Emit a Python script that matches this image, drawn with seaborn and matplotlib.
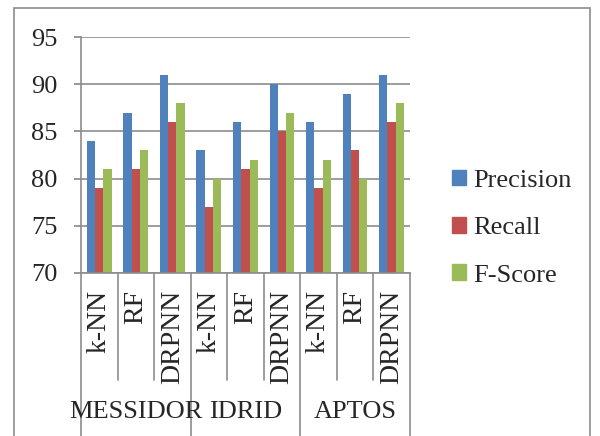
import pandas as pd
import matplotlib
matplotlib.use('Agg')
import matplotlib.pyplot as plt
import matplotlib.transforms as mtransforms
from matplotlib.patches import Rectangle
import seaborn as sns

# data
datasets = ['MESSIDOR', 'IDRID', 'APTOS']
models = ['k-NN', 'RF', 'DRPNN']
precision = [84, 87, 91, 83, 86, 90, 86, 89, 91]
recall = [79, 81, 86, 77, 81, 85, 79, 83, 86]
fscore = [81, 83, 88, 80, 82, 87, 82, 80, 88]
metrics = ['Precision', 'Recall', 'F-Score']
colors = ['#4F81BD', '#C0504D', '#9BBB59']

keys = [f'{d} {m}' for d in datasets for m in models]
df = pd.DataFrame({'key': keys, 'Precision': precision, 'Recall': recall, 'F-Score': fscore})
long_df = df.melt(id_vars='key', var_name='metric', value_name='value')

sns.set_theme(style='white')
plt.rcParams['font.family'] = ['Liberation Serif', 'DejaVu Serif']

fig = plt.figure(figsize=(6, 4.36), dpi=100)
ax = fig.add_axes([0.135, 0.374, 0.548, 0.541])

sns.barplot(data=long_df, x='key', y='value', hue='metric', order=keys,
            hue_order=metrics, palette=colors, width=0.68, ax=ax,
            saturation=1, edgecolor='none')

ax.set_ylim(70, 95)
ax.set_yticks(range(70, 96, 5))
ax.set_xlim(-0.5, len(keys) - 0.5)
ax.yaxis.grid(True, color='#8c8c8c', linewidth=1.2)
ax.set_axisbelow(True)
for s in ['top', 'right']:
    ax.spines[s].set_visible(False)
for s in ['left', 'bottom']:
    ax.spines[s].set_color('#8c8c8c')
    ax.spines[s].set_linewidth(1.2)
ax.tick_params(axis='y', left=True, length=5, color='#8c8c8c', labelsize=19, pad=12)
ax.set_xlabel('')
ax.set_ylabel('')

# model labels rotated under each group
ax.set_xticks(range(len(keys)))
ax.set_xticklabels(models * len(datasets), rotation=90, fontsize=20,
                   va='top', ha='center')
ax.tick_params(axis='x', bottom=False, pad=6)

# separators below the axis
trans = mtransforms.blended_transform_factory(ax.transData, ax.transAxes)
h_ax = 0.541 * 436
for i in range(len(keys) + 1):
    xpos = i - 0.5
    if i % 3 == 0:
        y_end = -(436 - 273) / h_ax
    else:
        y_end = -(380 - 273) / h_ax
    ax.plot([xpos, xpos], [0, y_end], transform=trans, color='#8c8c8c',
            linewidth=1.2, clip_on=False)

for j, d in enumerate(datasets):
    ax.text(3 * j + 1, -(412 - 273) / h_ax, d, transform=trans, ha='center',
            va='center', fontsize=19)

ax.legend_.remove()
handles = [Rectangle((0, 0), 1, 1, color=c) for c in colors]
fig.legend(handles, metrics, loc='center left', bbox_to_anchor=(0.753, 0.477),
           frameon=False, fontsize=19, handlelength=0.55, handleheight=0.55,
           labelspacing=0.95, handletextpad=0.25, borderpad=0, borderaxespad=0)

# outer chart frame
fig.add_artist(Rectangle((14 / 600, -0.05), (590 - 14) / 600, 1 - 8 / 436 + 0.05,
                         transform=fig.transFigure, fill=False,
                         edgecolor='#8c8c8c', linewidth=1.2))

fig.savefig('out.png', dpi=100)
plt.close(fig)
